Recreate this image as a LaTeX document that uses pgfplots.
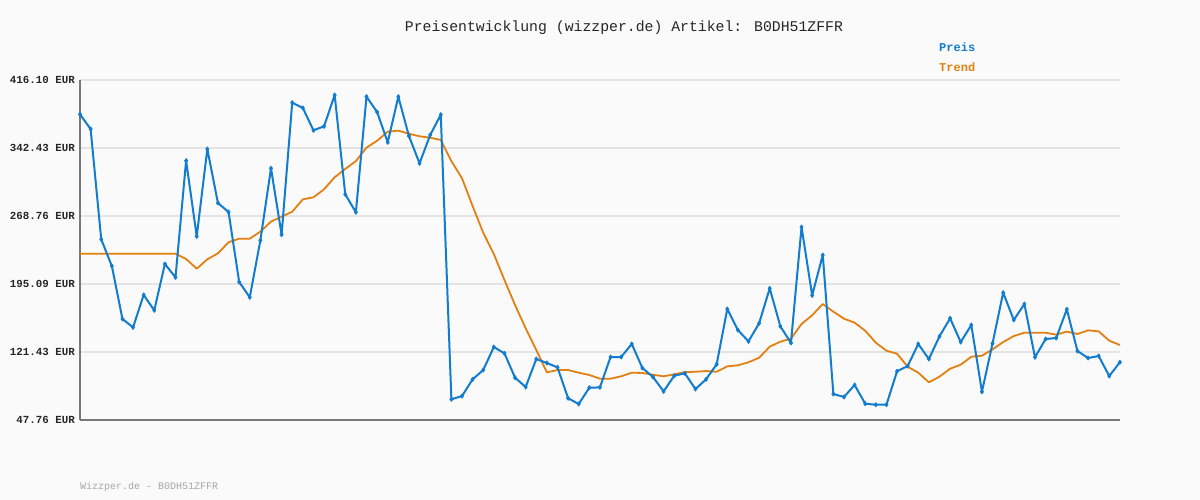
\documentclass[border=0pt]{standalone}
\usepackage{pgfplots}
\pgfplotsset{compat=1.18}
\usepackage{pgfplotstable}
\usepackage{fontspec}
\setmainfont{Liberation Mono}
\definecolor{preis}{RGB}{18,124,206}
\definecolor{trend}{RGB}{226,128,18}
\definecolor{bg}{RGB}{250,250,250}
\definecolor{gridc}{RGB}{228,228,228}
\definecolor{axc}{RGB}{120,120,120}

% x = index of the measurement, preis, trend (EUR)
\pgfplotstableread{
x preis trend
0 378.9 227.9
1 363.0 227.9
2 243.5 227.9
3 214.6 227.9
4 157.2 227.9
5 148.1 227.9
6 183.2 227.9
7 166.6 227.9
8 216.8 227.9
9 202.3 227.9
10 328.7 222.2
11 246.7 211.7
12 341.3 221.8
13 282.8 228.3
14 273.1 240.3
15 197.3 244.2
16 180.7 244.2
17 242.4 251.8
18 320.4 262.7
19 248.5 268.0
20 391.5 273.4
21 385.8 286.8
22 361.6 289.0
23 365.9 297.7
24 399.8 310.7
25 292.2 319.7
26 272.8 328.3
27 398.0 342.8
28 381.4 350.3
29 348.6 360.1
30 398.0 361.2
31 355.4 357.9
32 325.8 355.1
33 356.5 353.6
34 378.5 351.1
35 70.2 328.3
36 73.7 309.6
37 91.8 279.6
38 101.9 250.7
39 126.8 227.6
40 120.0 199.4
41 93.6 172.3
42 83.5 147.1
43 113.8 123.6
44 109.5 99.4
45 104.8 101.9
46 71.3 101.9
47 65.1 99.0
48 82.7 96.5
49 83.1 92.5
50 116.0 92.5
51 116.0 95.1
52 130.1 99.0
53 104.1 98.7
54 94.3 96.8
55 78.8 95.1
56 95.7 97.2
57 98.3 99.7
58 81.3 100.0
59 91.8 100.8
60 108.1 100.0
61 168.0 105.9
62 145.2 107.0
63 133.0 110.3
64 152.5 115.2
65 190.4 127.2
66 149.3 132.6
67 131.2 135.8
68 256.8 151.8
69 182.8 161.2
70 226.5 173.4
71 75.9 165.1
72 72.7 157.5
73 85.7 153.2
74 65.4 144.5
75 64.3 131.5
76 64.3 122.8
77 100.5 119.6
78 106.2 105.5
79 130.1 99.0
80 113.8 88.6
81 138.4 94.7
82 157.9 103.3
83 132.2 107.7
84 150.7 116.3
85 78.4 117.4
86 130.8 124.3
87 185.7 132.2
88 156.1 138.7
89 173.4 142.3
90 115.7 142.3
91 135.5 142.3
92 136.6 140.2
93 167.7 143.5
94 122.5 140.9
95 114.9 144.9
96 117.1 143.8
97 95.4 133.7
98 110.3 129.0
}\pricedata

\begin{document}
\begin{tikzpicture}[x=1pt,y=1pt]
\fill[bg] (0,0) rectangle (1200,500);
\useasboundingbox (0,0) rectangle (1200,500);

\begin{axis}[
  at={(80pt,80pt)}, anchor=south west,
  width=1040pt, height=340pt, scale only axis,
  xmin=0, xmax=98,
  ymin=47.76, ymax=416.10,
  xtick=\empty,
  ytick={47.76,121.43,195.09,268.76,342.43,416.10},
  yticklabels={47.76 EUR,121.43 EUR,195.09 EUR,268.76 EUR,342.43 EUR,416.10 EUR},
  yticklabel style={font=\fontsize{10.8}{12}\selectfont\bfseries, text=black!85, anchor=east, inner sep=0pt, xshift=-5pt},
  major tick length=0pt,
  ymajorgrids,
  grid style={gridc, line width=1.6pt},
  axis line style={axc, line width=2pt},
  axis x line*=bottom, axis y line*=left,
  axis background/.style={fill=bg},
  clip=false,
]
\addplot[trend, line width=1.8pt, line join=round] table[x=x, y=trend] {\pricedata};
\addplot[preis, line width=2pt, line join=round, mark=diamond*, mark size=2.2pt, mark options={fill=preis, draw=preis, line width=0.6pt}] table[x=x, y=preis] {\pricedata};
\end{axis}

\node[font=\fontsize{14.8}{16}\selectfont, text=black!85] at (624,472) {Preisentwicklung (wizzper.de) Artikel: B0DH51ZFFR};
\node[font=\fontsize{12}{14}\selectfont\bfseries, text=preis, anchor=west, inner sep=0pt] at (939,453) {Preis};
\node[font=\fontsize{12}{14}\selectfont\bfseries, text=trend, anchor=west, inner sep=0pt] at (939,433) {Trend};
\node[font=\fontsize{10}{12}\selectfont, text=black!35, anchor=west, inner sep=0pt] at (80,13) {Wizzper.de - B0DH51ZFFR};
\end{tikzpicture}
\end{document}
